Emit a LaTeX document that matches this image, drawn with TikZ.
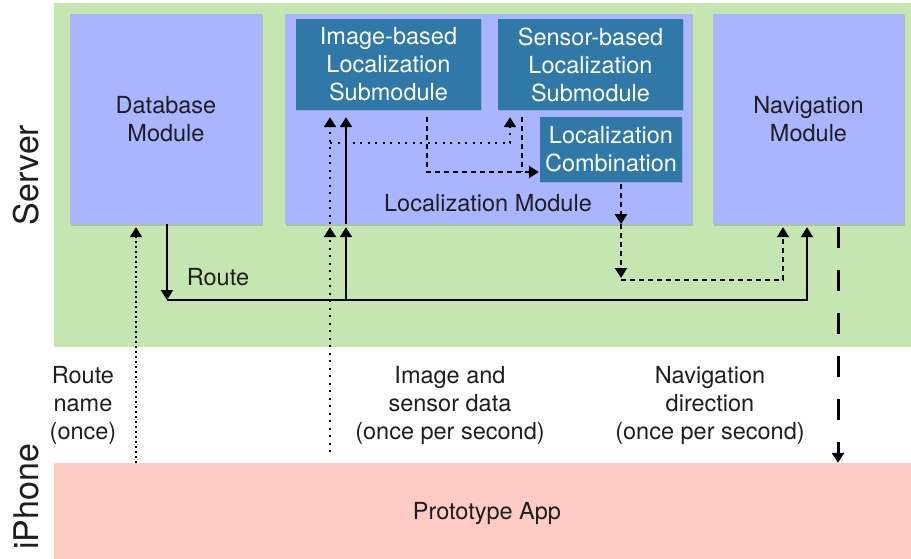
\documentclass[tikz,border=0pt]{standalone}
\usepackage{fontspec}
\setmainfont{TeX Gyre Heros}
\usetikzlibrary{arrows.meta,shadows}

\definecolor{servergreen}{HTML}{C6E6B1}
\definecolor{modblue}{HTML}{A9B5FF}
\definecolor{subteal}{HTML}{2F78A8}
\definecolor{apppink}{HTML}{FFCBC5}
\definecolor{inkgray}{HTML}{1E1E1E}

\tikzset{
  tip/.style={-{Triangle[length=10pt,width=12pt]}},
  module/.style={fill=modblue, text=inkgray, inner sep=0pt, align=center,
    font=\fontsize{23.5}{28}\selectfont,
    drop shadow={shadow xshift=1pt, shadow yshift=-1.5pt, opacity=0.35}},
  submodule/.style={fill=subteal, text=white, inner sep=0pt, align=center,
    font=\fontsize{23.5}{28}\selectfont,
    drop shadow={shadow xshift=1pt, shadow yshift=-1.5pt, opacity=0.35}},
  lbl/.style={text=inkgray, align=center, font=\fontsize{23.5}{28}\selectfont},
  solidline/.style={line width=2pt},
  dotline/.style={line width=2pt, dash pattern=on 2pt off 5.5pt},
  densedot/.style={line width=2pt, dash pattern=on 2pt off 3pt},
  dashline/.style={line width=2pt, dash pattern=on 5pt off 4pt},
  bigdash/.style={line width=3pt, dash pattern=on 21pt off 22pt}
}

\begin{document}
\begin{tikzpicture}[x=1pt,y=-1pt]
  \useasboundingbox (0,0) rectangle (911,559);
  % ---------- tiers ----------
  \fill[servergreen] (54,3) rectangle (911,347);
  \node[fill=apppink, minimum width=857pt, minimum height=96pt, inner sep=0pt] (app) at (482.5,511) {};
  \node[lbl] (appname) at (487,513) {Prototype App};
  \node[rotate=90, text=inkgray, font=\fontsize{34}{34}\selectfont] (server) at (26,175) {Server};
  \node[rotate=90, text=inkgray, font=\fontsize{34}{34}\selectfont] (iphone) at (26,497) {iPhone};

  % ---------- modules ----------
  \node[module, minimum width=192pt, minimum height=210pt] (db) at (166,119) {Database\\Module};
  \node[module, minimum width=407pt, minimum height=210pt] (loc) at (488.5,119) {};
  \node[module, minimum width=191pt, minimum height=210pt] (nav) at (808.5,119) {Navigation\\Module};
  \node[lbl] (loclbl) at (488,203) {Localization Module};

  % ---------- submodules ----------
  \node[submodule, minimum width=185pt, minimum height=91pt] (img) at (388.5,64.5) {Image-based\\Localization\\Submodule};
  \node[submodule, minimum width=185pt, minimum height=91pt] (sen) at (590.5,64.5) {Sensor-based\\Localization\\Submodule};
  \node[submodule, minimum width=142pt, minimum height=65pt] (comb) at (611,149.5) {Localization\\Combination};

  % ---------- columns of the connectors ----------
  \coordinate (xName) at (136,0);
  \coordinate (xDb) at (167,0);
  \coordinate (xData) at (330,0);
  \coordinate (xRt) at (346,0);
  \coordinate (xImg) at (427,0);
  \coordinate (xSen) at (510,0);
  \coordinate (xSenOut) at (522,0);
  \coordinate (xComb) at (621,0);
  \coordinate (xLocIn) at (783,0);
  \coordinate (xNavIn) at (807,0);
  \coordinate (xDir) at (838,0);
  \coordinate (yRoute) at (0,300);
  \coordinate (yLoc) at (0,280);
  \coordinate (yData) at (0,452);
  \coordinate (yFork) at (0,143);
  \coordinate (yJoin) at (0,172);

  % ---------- route name ----------
  \draw[densedot, tip, shorten >=3pt] (xName |- app.north) -- (xName |- db.south);
  \node[lbl] (namelbl) at (83,405) {Route\\name\\(once)};

  % ---------- route ----------
  \draw[solidline, tip] (xDb |- db.south) -- (xDb |- yRoute);
  \draw[solidline, tip, shorten >=3pt] (xDb |- yRoute) -- (xNavIn |- yRoute) -- (xNavIn |- nav.south);
  \draw[solidline, tip, shorten >=3pt] (xRt |- yRoute) -- (xRt |- loc.south);
  \draw[solidline, tip, shorten >=7pt] (xRt |- loc.south) -- (xRt |- img.south);
  \node[lbl] (routelbl) at (218,277) {Route};

  % ---------- image and sensor data ----------
  \draw[dotline, tip, shorten >=3pt] (xData |- yData) -- (xData |- loc.south);
  \draw[dotline, tip, shorten >=7pt] (xData |- loc.south) -- (xData |- img.south);
  \draw[dotline, tip, shorten >=7pt] (xData |- yFork) -- (xSen |- yFork) -- (xSen |- sen.south);
  \node[lbl] (datalbl) at (450,405) {Image and\\sensor data\\(once per second)};

  % ---------- localization results ----------
  \draw[dashline, tip, shorten >=1pt] ([yshift=-7pt]xImg |- img.south) -- (xImg |- yJoin) -- (comb.west |- yJoin);
  \draw[dashline] ([yshift=-7pt]xSenOut |- sen.south) -- (xSenOut |- yJoin);
  \draw[dashline, tip] ([yshift=-2pt]xComb |- comb.south) -- (xComb |- loc.south);
  \draw[dashline, tip, shorten >=2pt] (xComb |- loc.south) -- (xComb |- yLoc);
  \draw[dashline, tip, shorten >=3pt] (xComb |- yLoc) -- (xLocIn |- yLoc) -- (xLocIn |- nav.south);

  % ---------- navigation direction ----------
  \draw[bigdash, tip, dash phase=-3pt] (xDir |- nav.south) -- (xDir |- app.north);
  \node[lbl] (dirlbl) at (710,405) {Navigation\\direction\\(once per second)};
\end{tikzpicture}
\end{document}
